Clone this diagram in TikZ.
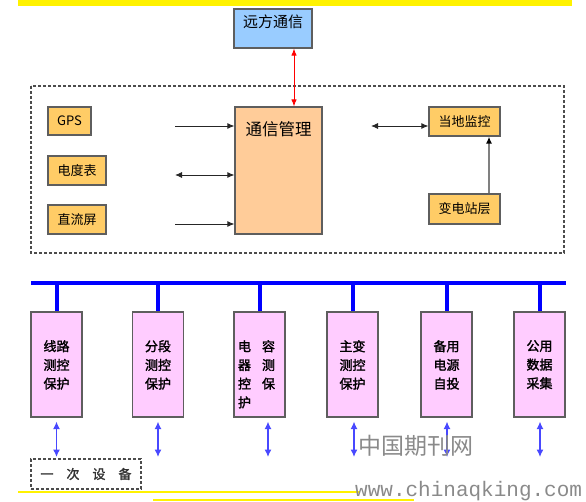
\documentclass[tikz,border=0pt]{standalone}
\usepackage{fontspec}
\setmainfont{Noto Sans CJK SC}
\newfontfamily\cjkb[FakeBold=1.8]{Noto Sans CJK SC}
\newfontfamily\wmmono{Liberation Mono}
\usetikzlibrary{arrows.meta}
\definecolor{bluebox}{HTML}{99CCFF}
\definecolor{orangebox}{HTML}{FFCC66}
\definecolor{peachbox}{HTML}{FFCC99}
\definecolor{pinkbox}{HTML}{FFCCFF}
\definecolor{edge}{HTML}{5E5E5E}
\definecolor{busblue}{HTML}{0000FF}
\definecolor{arrblue}{HTML}{4848FF}
\definecolor{wm}{HTML}{8A8A8A}
\tikzset{
  box/.style={draw=edge, line width=1.2pt, inner sep=0pt, rectangle},
  smallbox/.style={box, fill=orangebox, font=\fontsize{13}{15}\selectfont},
  pinkunit/.style={box, fill=pinkbox, minimum width=51pt, minimum height=105pt},
  pinktext/.style={anchor=north, inner sep=0pt, yshift=-28.6pt, align=left, font=\cjkb\fontsize{13}{18.7}\selectfont},
  darr/.style={draw=black!85, line width=0.9pt, -{Latex[length=7pt,width=6pt]}},
  ddarr/.style={draw=black!85, line width=0.9pt, {Latex[length=7pt,width=6pt]}-{Latex[length=7pt,width=6pt]}},
  redarr/.style={draw=red, line width=0.9pt, {Latex[length=7pt,width=5.5pt]}-{Latex[length=7pt,width=5.5pt]}},
  bluearr/.style={draw=arrblue, line width=1.2pt, {Latex[length=7.5pt,width=7pt]}-{Latex[length=7.5pt,width=7pt]}},
  bus/.style={draw=busblue, line width=4pt},
  dashbox/.style={draw=black!70, line width=1.1pt, dash pattern=on 3pt off 2pt},
}
\begin{document}
\begin{tikzpicture}[x=1pt,y=-1pt]
\useasboundingbox (0,0) rectangle (586,501);
% yellow decoration
\fill[yellow] (18,0) rectangle (572,6);
\draw[yellow, line width=2pt] (18,492) -- (360,492);
\draw[yellow, line width=2pt] (153,499.5) -- (414,499.5);

% dashed station frame
\draw[dashbox] (31,86) rectangle (564,253);

% top nodes
\node[box, fill=bluebox, minimum width=78pt, minimum height=39pt,
  label={[anchor=north,inner sep=0pt,yshift=-6pt,font=\fontsize{15}{17}\selectfont]north:远方通信}] (remote) at (273,28.5) {};
\node[box, fill=peachbox, minimum width=87pt, minimum height=127pt,
  label={[anchor=north,inner sep=0pt,yshift=-15pt,font=\fontsize{16.5}{18}\selectfont]north:通信管理}] (comm) at (278.5,170.5) {};
\node[smallbox, minimum width=43pt, minimum height=28pt] (gps) at (69.5,121) {GPS};
\node[smallbox, minimum width=58pt, minimum height=29pt] (meter) at (77,170.5) {电度表};
\node[smallbox, minimum width=58pt, minimum height=29pt] (dc) at (77,219.5) {直流屏};
\node[smallbox, minimum width=71pt, minimum height=29pt] (local) at (464.5,121.5) {当地监控};
\node[smallbox, minimum width=71pt, minimum height=30pt] (sub) at (464.5,209) {变电站层};

% arrow free ends
\coordinate (a1) at (175,126);
\coordinate (a2) at (175,175);
\coordinate (a3) at (175,224);
\coordinate (a4) at (371,126);

\draw[redarr] ([xshift=21pt]remote.south) -- ([xshift=15.5pt]comm.north);
\draw[darr] (a1) -- (a1 -| comm.west);
\draw[ddarr] (a2) -- (a2 -| comm.west);
\draw[darr] (a3) -- (a3 -| comm.west);
\draw[ddarr] (a4) -- (a4 -| local.west);
\draw[draw=black!50, line width=1.6pt, -{Latex[length=7pt,width=6pt,black]}] ([xshift=24.5pt]sub.north) -- ([xshift=24.5pt]local.south);

% bus
\coordinate (busL) at (31,282.5);
\coordinate (busR) at (566,282.5);
\draw[bus] (busL) -- (busR);

% bay units
\node[pinkunit, label={[pinktext]north:线路\\测控\\保护}] (p1) at (56.5,364.5) {};
\node[pinkunit, label={[pinktext]north:分段\\测控\\保护}] (p2) at (158,364.5) {};
\node[pinkunit, label={[pinktext,xshift=-3pt]north:电\hspace{11pt}容\\器\hspace{11pt}测\\控\hspace{11pt}保\\护\hspace{24pt}}] (p3) at (259.5,364.5) {};
\node[pinkunit, label={[pinktext]north:主变\\测控\\保护}] (p4) at (352.5,364.5) {};
\node[pinkunit, label={[pinktext]north:备用\\电源\\自投}] (p5) at (446.5,364.5) {};
\node[pinkunit, label={[pinktext]north:公用\\数据\\采集}] (p6) at (539.5,364.5) {};

\foreach \p in {p1,p2,p3,p4,p5,p6}{
  \draw[bus] (busL -| \p.north) -- (\p.north);
}

% primary equipment
\node[dashbox, minimum width=110pt, minimum height=30pt, inner sep=0pt,
  font=\cjkb\fontsize{13}{15}\selectfont, text=black!80] (prim) at (86,474) {一\hspace{13pt}次\hspace{13pt}设\hspace{13pt}备};

\coordinate (e1) at (56.5,457);
\coordinate (e2) at (158,457);
\coordinate (e3) at (268,457);
\coordinate (e4) at (354,457);
\coordinate (e5) at (447,457);
\coordinate (e6) at (540,457);
\draw[bluearr] ([yshift=-4pt]p1.south) -- (e1);
\draw[bluearr] ([yshift=-4pt]p2.south) -- (e2);
\draw[bluearr] ([xshift=8.5pt,yshift=-4pt]p3.south) -- (e3);
\draw[bluearr] ([xshift=1.5pt,yshift=-4pt]p4.south) -- (e4);
\draw[bluearr] ([xshift=0.5pt,yshift=-4pt]p5.south) -- (e5);
\draw[bluearr] ([xshift=0.5pt,yshift=-4pt]p6.south) -- (e6);

% watermarks
\node[anchor=west, inner sep=0pt, text=wm, font=\fontsize{23}{25}\selectfont] (wm1) at (358,446) {中国期刊网};
\node[anchor=base west, inner sep=0pt, text=wm, font=\wmmono\fontsize{21}{23}\selectfont] (wm2) at (355,496.5) {www.chinaqking.com};
\end{tikzpicture}
\end{document}
